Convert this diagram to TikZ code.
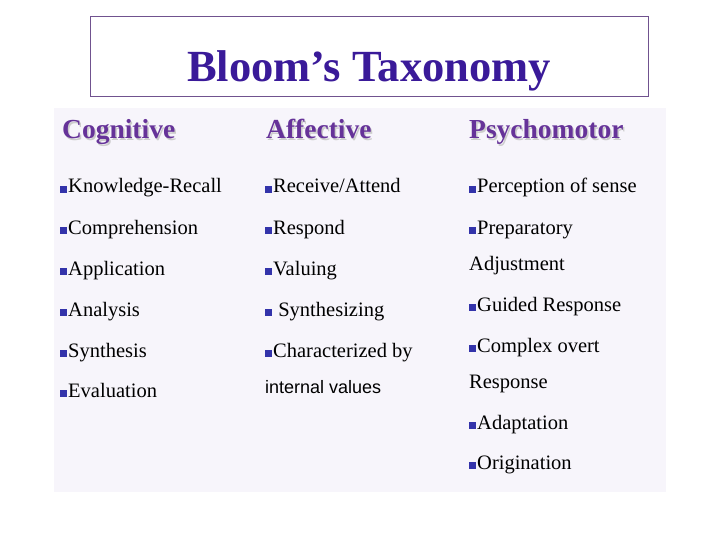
\documentclass[tikz,border=0pt]{standalone}
\usepackage{fontspec}
\setmainfont{Liberation Serif}
\newfontfamily\arial{Liberation Sans}
\definecolor{ttl}{HTML}{3A1A99}
\definecolor{hdr}{HTML}{663399}
\definecolor{bul}{HTML}{3333AA}
\definecolor{bg}{HTML}{F7F5FB}
\begin{document}
\begin{tikzpicture}[x=1pt,y=-1pt,
  txt/.style={anchor=base west,inner sep=0pt,font=\fontsize{20.5}{24}\selectfont},
  hd/.style={anchor=base west,inner sep=0pt,font=\fontsize{27.5}{30}\selectfont\bfseries,text=hdr},
  hds/.style={anchor=base west,inner sep=0pt,font=\fontsize{27.5}{30}\selectfont\bfseries,text=gray!40}]
\newcommand{\bl}{\textcolor{bul}{\rule{7pt}{7pt}}\hspace{1pt}}
\useasboundingbox (0,0) rectangle (720,540);
\fill[white] (0,0) rectangle (720,540);
\node[draw=hdr!60!gray,line width=0.8pt,minimum width=558pt,minimum height=80pt,anchor=north west,inner sep=0pt] (tb) at (90,16) {};
\node[anchor=base,inner sep=0pt,text=ttl,font=\fontsize{44.5}{48}\selectfont\bfseries] (title) at (369,82) {Bloom’s Taxonomy};
\fill[bg] (54,108) rectangle (666,492);
\foreach \x/\t/\n in {62/Cognitive/h1,266/Affective/h2,469/Psychomotor/h3}{
  \node[hds] at (\x+1.5,140.5) {\t};
  \node[hd] (\n) at (\x,139) {\t};}
\foreach \y/\t/\n in {186/Knowledge-Recall/a1,227/Comprehension/a2,268/Application/a3,309/Analysis/a4,350/Synthesis/a5,390/Evaluation/a6}{
  \node[txt] (\n) at (60,\y+7) {\bl\t};}
\foreach \y/\t/\n in {186/Receive\slash Attend/b1,227/Respond/b2,268/Valuing/b3,309/{ Synthesizing}/b4,350/Characterized by/b5}{
  \node[txt] (\n) at (265,\y+7) {\bl\t};}
\node[txt,font=\arial\fontsize{18}{22}\selectfont] (b6) at (265,393) {internal values};
\node[txt] (c1) at (469,193) {\bl Perception of sense};
\node[txt] (c2) at (469,234) {\bl Preparatory};
\node[txt] (c3) at (469,270) {Adjustment};
\node[txt] (c4) at (469,311) {\bl Guided Response};
\node[txt] (c5) at (469,352) {\bl Complex overt};
\node[txt] (c6) at (469,388) {Response};
\node[txt] (c7) at (469,429) {\bl Adaptation};
\node[txt] (c8) at (469,469) {\bl Origination};
\end{tikzpicture}
\end{document}
